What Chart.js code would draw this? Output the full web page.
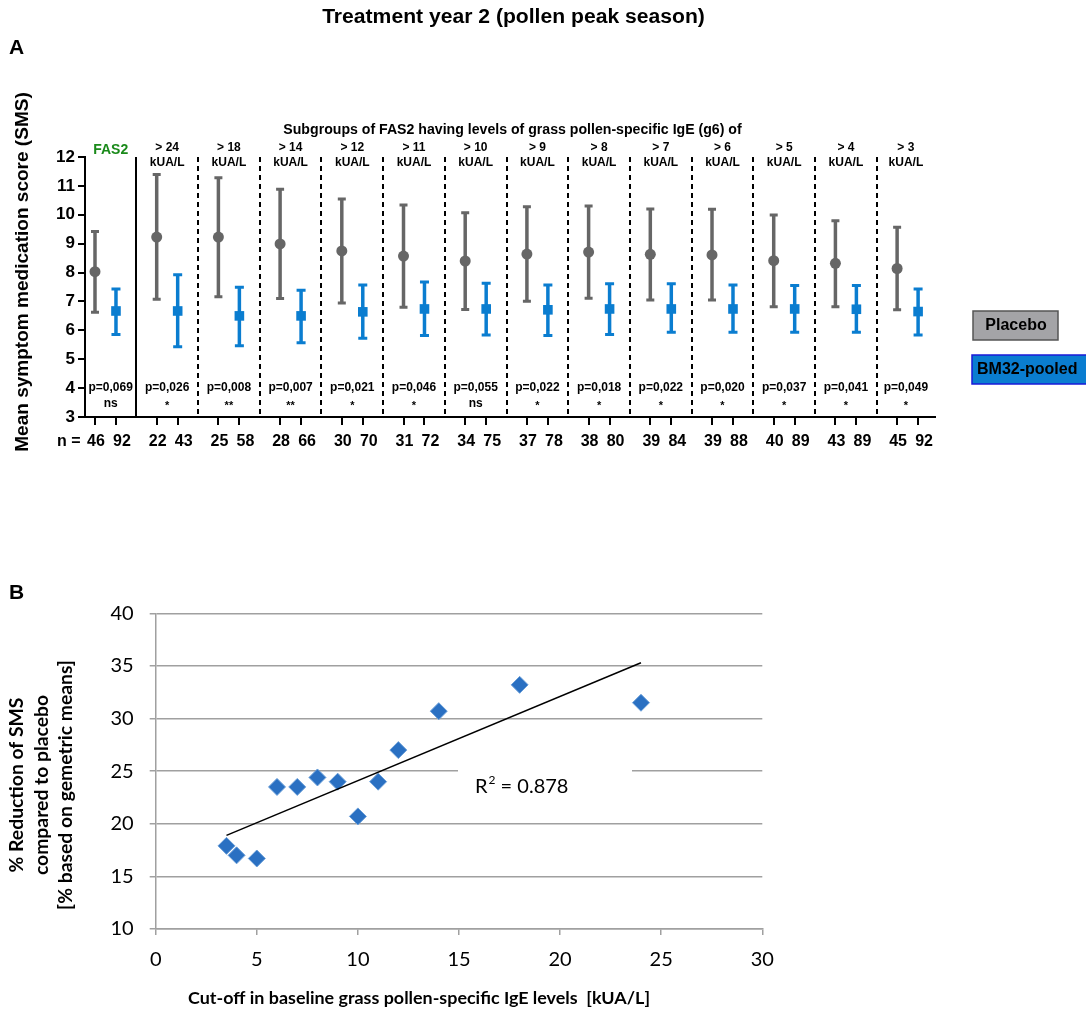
<!DOCTYPE html>
<html><head><meta charset="utf-8">
<script src="https://cdn.jsdelivr.net/npm/chart.js@4/dist/chart.umd.min.js"></script>
<style>
html,body{margin:0;padding:0;background:#fff;}
#wrap{position:relative;width:1086px;height:1013px;overflow:hidden;background:#fff;}
canvas{position:absolute;left:0;}
</style></head><body>
<div id="wrap">
<canvas id="c1" width="1086" height="470" style="top:0;width:1086px;height:470px"></canvas>
<canvas id="c2" width="1086" height="453" style="top:560px;width:1086px;height:453px"></canvas>
</div>
<script>
// ---------- Panel A data ----------
const groups = ['FAS2','> 24','> 18','> 14','> 12','> 11','> 10','> 9','> 8','> 7','> 6','> 5','> 4','> 3'];
const placeboMean = [8.03,9.23,9.23,8.99,8.75,8.57,8.40,8.64,8.71,8.63,8.61,8.41,8.32,8.14];
const placeboLow  = [6.63,7.08,7.16,7.10,6.95,6.80,6.72,7.01,7.11,7.05,7.05,6.82,6.82,6.71];
const placeboHigh = [9.42,11.39,11.28,10.88,10.55,10.34,10.07,10.28,10.30,10.20,10.19,9.99,9.79,9.57];
const bmMean = [6.67,6.67,6.50,6.50,6.64,6.74,6.74,6.71,6.74,6.74,6.74,6.74,6.73,6.65];
const bmLow  = [5.86,5.43,5.47,5.57,5.73,5.82,5.84,5.82,5.86,5.93,5.93,5.93,5.93,5.84];
const bmHigh = [7.43,7.92,7.49,7.39,7.57,7.67,7.63,7.57,7.61,7.61,7.57,7.55,7.55,7.43];
const nPlacebo = [46,22,25,28,30,31,34,37,38,39,39,40,43,45];
const nBM      = [92,43,58,66,70,72,75,78,80,84,88,89,89,92];
const pValues = ['p=0,069','p=0,026','p=0,008','p=0,007','p=0,021','p=0,046','p=0,055','p=0,022','p=0,018','p=0,022','p=0,020','p=0,037','p=0,041','p=0,049'];
const sigLabels = ['ns','*','**','**','*','*','ns','*','*','*','*','*','*','*'];
const yTicksA = [3,4,5,6,7,8,9,10,11,12];

// ---------- Panel B data ----------
const cutoff    = [3.5,4,5,6,7,8,9,10,11,12,14,18,24];
const reduction = [17.9,17.0,16.7,23.5,23.5,24.4,24.0,20.7,24.0,27.0,30.7,33.2,31.5];
const trendX = [3.5,24];
const trendY = [18.9,35.3];

// ---------- styles ----------
const GRAY = '#666666', BLUE = '#0a7dd0';
const ARIAL = '"Liberation Sans", Arial, sans-serif';
const CAL = 'Lato, "Open Sans", sans-serif';
const OFF = 0.17;

function fitFont(ctx, text, weight, family, targetW){
  ctx.font = weight + ' 100px ' + family;
  const w = ctx.measureText(text).width;
  return weight + ' ' + (100*targetW/w).toFixed(2) + 'px ' + family;
}

const tickPos = [];
groups.forEach((g,i)=>{ tickPos.push(i-OFF, i+OFF); });

const topDeco = {
  id:'topDeco',
  beforeDatasetsDraw(chart){
    const {ctx, scales:{x,y}, chartArea:ca} = chart;
    ctx.save();
    for (let i=0;i<groups.length-1;i++){
      const px = Math.round(x.getPixelForValue(i+0.5));
      ctx.beginPath(); ctx.strokeStyle='#000'; ctx.lineWidth=2;
      ctx.setLineDash(i===0?[]:[5,4]);
      ctx.moveTo(px, ca.top); ctx.lineTo(px, ca.bottom); ctx.stroke();
    }
    ctx.setLineDash([]);
    const bar = (xv, lo, hi, color, capW) => {
      const px = x.getPixelForValue(xv), pl = y.getPixelForValue(lo), ph = y.getPixelForValue(hi);
      ctx.strokeStyle = color; ctx.lineWidth = 3.5; ctx.lineCap='butt';
      ctx.beginPath(); ctx.moveTo(px, ph); ctx.lineTo(px, pl); ctx.stroke();
      ctx.lineWidth = 3;
      ctx.beginPath(); ctx.moveTo(px-capW, ph); ctx.lineTo(px+capW, ph);
      ctx.moveTo(px-capW, pl); ctx.lineTo(px+capW, pl); ctx.stroke();
    };
    groups.forEach((g,i)=>{
      bar(i-OFF, placeboLow[i], placeboHigh[i], GRAY, 4);
      bar(i+OFF, bmLow[i], bmHigh[i], BLUE, 4.5);
    });
    ctx.restore();
  },
  afterDraw(chart){
    const {ctx, scales:{x,y}, chartArea:ca} = chart;
    ctx.save();
    ctx.fillStyle = '#000';
    ctx.textAlign='center'; ctx.textBaseline='middle';
    // main title
    const title = 'Treatment year 2 (pollen peak season)';
    ctx.font = fitFont(ctx, title, 'bold', ARIAL, 383);
    ctx.fillText(title, 513.5, 17);
    ctx.textAlign='left';
    ctx.font = 'bold 21px ' + ARIAL;
    ctx.fillText('A', 9, 48);
    // subgroup header
    const sub = 'Subgroups of FAS2 having levels of grass pollen-specific IgE (g6) of';
    ctx.textAlign='center';
    ctx.font = fitFont(ctx, sub, 'bold', ARIAL, 459);
    ctx.fillText(sub, 512.5, 130);
    // y title
    const yt = 'Mean symptom medication score (SMS)';
    ctx.save();
    ctx.translate(23, 272); ctx.rotate(-Math.PI/2);
    ctx.font = fitFont(ctx, yt, 'bold', ARIAL, 360);
    ctx.fillText(yt, 0, 0);
    ctx.restore();
    // group labels, p-values, n labels
    groups.forEach((g,i)=>{
      const l = Math.max(ca.left, x.getPixelForValue(i-0.5));
      const r = Math.min(ca.right, x.getPixelForValue(i+0.5));
      const cx = (l+r)/2;
      ctx.textAlign='center';
      if (i===0){
        ctx.fillStyle = '#1a8a1a';
        ctx.font = 'bold 14px ' + ARIAL;
        ctx.fillText(g, cx, 150);
      } else {
        ctx.fillStyle = '#000';
        ctx.font = 'bold 12px ' + ARIAL;
        ctx.fillText(g, cx, 148);
        ctx.fillText('kUA/L', cx, 163);
      }
      ctx.fillStyle = '#000';
      ctx.font = 'bold 12px ' + ARIAL;
      ctx.fillText(pValues[i], cx, 388);
      ctx.font = (sigLabels[i]==='ns' ? 'bold 12px ' : 'bold 11px ') + ARIAL;
      ctx.fillText(sigLabels[i], cx, sigLabels[i]==='ns' ? 404 : 406);
      ctx.font = 'bold 16px ' + ARIAL;
      ctx.fillText(String(nPlacebo[i]), x.getPixelForValue(i-OFF)+1, 442);
      ctx.fillText(String(nBM[i]), x.getPixelForValue(i+OFF)+6, 442);
    });
    // n =
    ctx.textAlign='left';
    ctx.font = 'bold 16px ' + ARIAL;
    ctx.fillText('n =', 57, 442);
    // legend boxes
    ctx.fillStyle = '#a4a4a7'; ctx.fillRect(973, 311, 85, 29);
    ctx.strokeStyle = '#555'; ctx.lineWidth = 1.5; ctx.strokeRect(973, 311, 85, 29);
    ctx.fillStyle = BLUE; ctx.fillRect(972, 355, 120, 29);
    ctx.strokeStyle = '#1a1ad8'; ctx.lineWidth = 1.5; ctx.strokeRect(972, 355, 120, 29);
    ctx.fillStyle = '#000'; ctx.font = 'bold 16px ' + ARIAL;
    ctx.textAlign='center'; ctx.fillText('Placebo', 1016, 326);
    ctx.textAlign='left'; ctx.fillText('BM32-pooled', 977, 370);
    ctx.restore();
  }
};

new Chart(document.getElementById('c1'), {
  type:'scatter',
  data:{ datasets:[
    { label:'Placebo', data: groups.map((g,i)=>({x:i-OFF, y:placeboMean[i]})),
      pointStyle:'circle', pointRadius:5.5, backgroundColor:GRAY, borderColor:GRAY, borderWidth:0 },
    { label:'BM32-pooled', data: groups.map((g,i)=>({x:i+OFF, y:bmMean[i]})),
      pointStyle:'rect', pointRadius:6.8, backgroundColor:BLUE, borderColor:BLUE, borderWidth:0 }
  ]},
  options:{
    responsive:false, animation:false, devicePixelRatio:1,
    layout:{padding:{left:40, right:151, top:157, bottom:13}},
    plugins:{legend:{display:false}, tooltip:{enabled:false}},
    scales:{
      x:{ type:'linear', min:-0.332, max:13.444,
        afterBuildTicks: s => { s.ticks = tickPos.map(v=>({value:v})); },
        afterFit: s => { s.height = 40; },
        ticks:{ display:false, autoSkip:false, maxRotation:0, minRotation:0 },
        grid:{ display:true, drawOnChartArea:false, drawTicks:true, tickLength:8, color:'#000', lineWidth:2 },
        border:{ display:true, color:'#000', width:2 } },
      y:{ min:3, max:12,
        afterBuildTicks: s => { s.ticks = yTicksA.map(v=>({value:v})); },
        afterFit: s => { s.width = 45; },
        ticks:{ padding:3, color:'#000', font:{family:ARIAL, weight:'bold', size:17} },
        grid:{ display:true, drawOnChartArea:false, drawTicks:true, tickLength:7, color:'#000', lineWidth:2 },
        border:{ display:true, color:'#000', width:2 } }
    }
  },
  plugins:[topDeco]
});

// ---------- Panel B ----------
const botDeco = {
  id:'botDeco',
  beforeDatasetsDraw(chart){
    const {ctx} = chart;
    ctx.save();
    ctx.fillStyle = '#fff';
    ctx.fillRect(458, 200, 174, 40);
    ctx.restore();
  },
  afterDraw(chart){
    const {ctx} = chart;
    ctx.save();
    ctx.fillStyle = '#000';
    ctx.textBaseline = 'middle';
    ctx.textAlign = 'left';
    ctx.font = 'bold 21px ' + ARIAL;
    ctx.fillText('B', 9, 33);
    // R2 label
    ctx.font = '20px ' + CAL;
    ctx.fillText('R', 475, 227);
    const rw = ctx.measureText('R').width;
    ctx.font = '12px ' + CAL;
    ctx.fillText('2', 475+rw+1, 220);
    const sw = ctx.measureText('2').width;
    ctx.font = '20px ' + CAL;
    ctx.fillText(' = 0.878', 475+rw+sw+1, 227);
    // x title
    const xt = 'Cut-off in baseline grass pollen-specific IgE levels  [kUA/L]';
    ctx.textAlign = 'center';
    ctx.font = fitFont(ctx, xt, 'bold', CAL, 462);
    ctx.fillText(xt, 419, 438);
    // y title
    const lines = ['% Reduction of SMS','compared to placebo','[% based on gemetric means]'];
    ctx.save();
    ctx.translate(0, 225); ctx.rotate(-Math.PI/2);
    ctx.font = fitFont(ctx, lines[2], 'bold', CAL, 250);
    const xs = [17, 42, 66];
    lines.forEach((t,i)=>{ ctx.fillText(t, 0, xs[i]); });
    ctx.restore();
    ctx.restore();
  }
};

new Chart(document.getElementById('c2'), {
  type:'scatter',
  data:{ datasets:[
    { type:'line', label:'trend', data: trendX.map((v,i)=>({x:v, y:trendY[i]})),
      borderColor:'#000', borderWidth:1.5, pointRadius:0, fill:false, tension:0 },
    { label:'reduction', data: cutoff.map((v,i)=>({x:v, y:reduction[i]})),
      pointStyle:'rectRot', pointRadius:8.5, backgroundColor:'#2a70c2', borderColor:'#6b9fd8', borderWidth:1 }
  ]},
  options:{
    responsive:false, animation:false, devicePixelRatio:1,
    layout:{padding:{left:105.7, right:323.7, top:53.3, bottom:39}},
    plugins:{legend:{display:false}, tooltip:{enabled:false}},
    scales:{
      x:{ type:'linear', min:0, max:30,
        afterFit: s => { s.height = 45; },
        ticks:{ stepSize:5, padding:13, color:'#000', font:{family:CAL, size:20} },
        grid:{ display:true, drawOnChartArea:false, drawTicks:true, tickLength:6, color:'#a0a0a0', lineWidth:1.5 },
        border:{ display:true, color:'#a0a0a0', width:1.5 } },
      y:{ min:10, max:40,
        afterFit: s => { s.width = 50; },
        ticks:{ stepSize:5, padding:16, color:'#000', font:{family:CAL, size:20} },
        grid:{ display:true, drawTicks:true, tickLength:6, color:'#a0a0a0', lineWidth:1.5 },
        border:{ display:true, color:'#a0a0a0', width:1.5 } }
    }
  },
  plugins:[botDeco]
});
</script>
</body></html>
